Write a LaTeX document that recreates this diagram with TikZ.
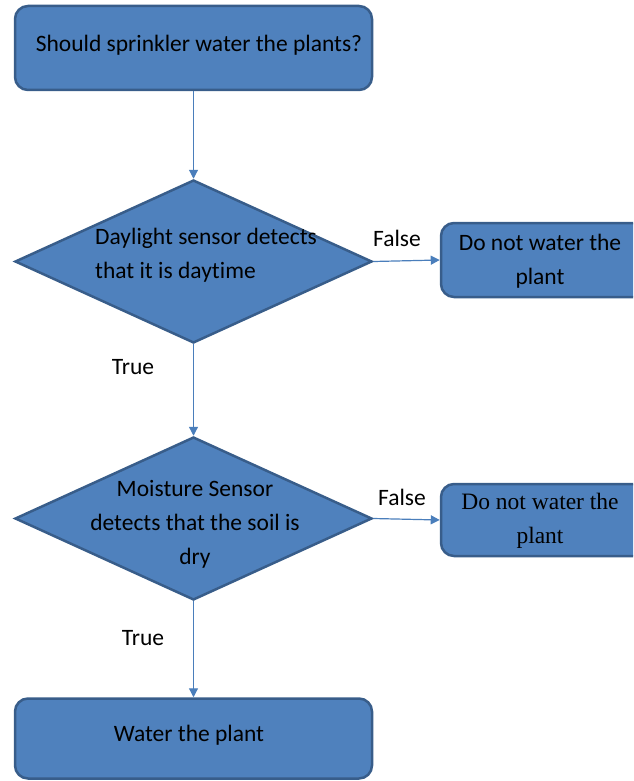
\documentclass[tikz,border=0pt]{standalone}
\usepackage{fontspec}
\setmainfont{Carlito}[Ligatures=NoCommon]
\newfontfamily\serifb{Liberation Serif}
\usetikzlibrary{shapes.geometric,arrows.meta}
\definecolor{boxfill}{HTML}{4F81BD}
\definecolor{boxdraw}{HTML}{385D8A}
\definecolor{arrowc}{HTML}{4A7EBB}
\begin{document}
\begin{tikzpicture}[x=1pt,y=-1pt,
  rbox/.style={draw=boxdraw, fill=boxfill, line width=2.5pt, rounded corners=13pt, inner sep=0pt},
  dbox/.style={diamond, draw=boxdraw, fill=boxfill, line width=2.5pt, inner sep=0pt, minimum width=357pt, minimum height=163pt},
  txt/.style={inner sep=0pt, font=\fontsize{23.5}{34}\selectfont, text=black},
  stxt/.style={inner sep=0pt, font=\serifb\fontsize{23.5}{34}\selectfont, text=black},
  conn/.style={draw=arrowc, line width=1.2pt, -{Triangle[length=9pt,width=9pt]}},
]
\useasboundingbox (0,0) rectangle (633,781);
\clip (0,0) rectangle (633,781);
% boxes
\node[rbox, minimum width=357pt, minimum height=84pt] (start) at (193.5,48) {};
\node[txt] (starttxt) at (199,45) {Should sprinkler water the plants?};
\node[dbox] (d1) at (193.5,261.5) {};
\node[txt, anchor=west, align=left] (d1txt) at (95,255) {Daylight sensor detects\\that it is daytime};
\node[rbox, minimum width=219pt, minimum height=74pt] (no1) at (550.5,260) {};
\node[txt, align=center] (no1txt) at (540,261) {Do not water the\\plant};
\node[dbox] (d2) at (193.5,518.5) {};
\node[txt, align=center] (d2txt) at (195,524) {Moisture Sensor\\detects that the soil is\\dry};
\node[rbox, minimum width=219pt, minimum height=72pt] (no2) at (550.5,520) {};
\node[stxt, align=center] (no2txt) at (540,521) {Do not water the\\plant};
\node[rbox, minimum width=357pt, minimum height=80pt] (water) at (193.5,738.5) {};
\node[txt] (watertxt) at (189,735) {Water the plant};
% connectors
\draw[conn] (start.south) -- (d1.north);
\draw[conn] (d1.east) -- (no1.west);
\draw[conn] (d1.south) -- (d2.north);
\draw[conn] (d2.east) -- (no2.west);
\draw[conn] (d2.south) -- (water.north);
% labels
\node[txt] (f1) at (397,238) {False};
\node[txt] (f2) at (402,497) {False};
\node[txt] (t1) at (133,367) {True};
\node[txt] (t2) at (143,638) {True};
\end{tikzpicture}
\end{document}
